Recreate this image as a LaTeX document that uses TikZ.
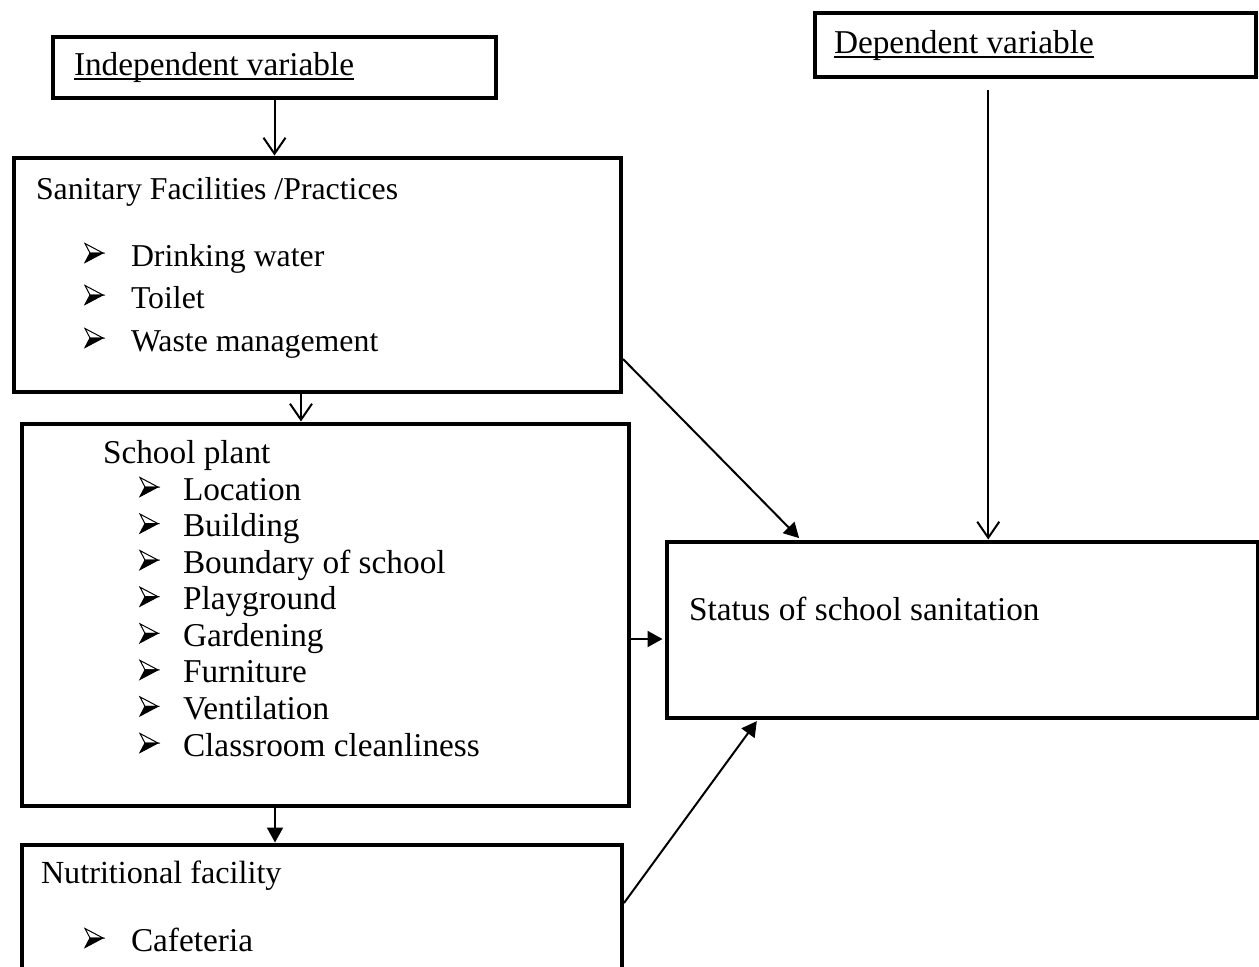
\documentclass[tikz,border=0pt]{standalone}
\usepackage{fontspec}
\setmainfont{Liberation Serif}
\usetikzlibrary{arrows.meta}
\newcommand{\wordul}[1]{\setbox0\hbox{#1}\rlap{\rule[-4.5pt]{\wd0}{1.6pt}}\box0}
\tikzset{
  pointer/.pic={
    \filldraw[fill=white, line width=1pt] (-9,-9.5) -- (9,0) -- (-4,0) -- cycle;
    \filldraw[line width=1pt] (-9,9.5) -- (9,0) -- (-4,0) -- cycle;
  }
}

\begin{document}
\begin{tikzpicture}[x=1pt, y=-1pt, line width=2pt,
  every node/.style={font=\fontsize{33.3}{40}\selectfont, inner sep=0pt},
  varbox/.style={draw, rectangle, line width=4pt, anchor=north west},
  txt/.style={anchor=base west},
  smalltxt/.style={anchor=base west, font=\fontsize{31.8}{38}\selectfont},
  vee/.style={-{Straight Barb[length=16pt, width=22pt]}},
  tri/.style={-{Triangle[length=15pt, width=16pt]}}]
\useasboundingbox (0, 0) rectangle (1259, 967);
\clip (0, 0) rectangle (1259, 967);
%Boxes
\node[varbox, minimum width=443pt, minimum height=61pt] (indep) at (51, 34.5) {};
\node[varbox, minimum width=441.5pt, minimum height=64pt] (dep) at (812.5, 11) {};
\node[varbox, minimum width=607pt, minimum height=234.5pt] (san) at (12, 155.5) {};
\node[varbox, minimum width=607pt, minimum height=382pt] (school) at (20, 421.5) {};
\node[varbox, minimum width=600pt, minimum height=150pt] (nutr) at (20, 842.5) {};
\node[varbox, minimum width=591pt, minimum height=176pt] (status) at (664.5, 539.5) {};
%Headings
\node[txt] (indeptext) at (73, 75) {\wordul{Independent variable}};
\node[txt] (deptext) at (833, 53) {\wordul{Dependent variable}};
\node[smalltxt] (santitle) at (35, 199) {Sanitary Facilities /Practices};
\node[txt] (schooltitle) at (102, 463) {School plant};
\node[smalltxt, font=\fontsize{32.2}{38}\selectfont] (nutrtitle) at (40, 883) {Nutritional facility};
\node[txt] (statustext) at (688, 620) {Status of school sanitation};
%Sanitary items
\node[smalltxt] (water) at (130, 266) {Drinking water};
\node[smalltxt] (toilet) at (130, 308) {Toilet};
\node[smalltxt] (waste) at (130, 351) {Waste management};
\pic at (94, 253) {pointer};
\pic at (94, 295) {pointer};
\pic at (94, 338) {pointer};
%School plant items
\node[txt] (location) at (182, 500) {Location};
\node[txt] (building) at (182, 536.6) {Building};
\node[txt] (boundary) at (182, 573.1) {Boundary of school};
\node[txt] (playground) at (182, 609.7) {Playground};
\node[txt] (gardening) at (182, 646.3) {Gardening};
\node[txt] (furniture) at (182, 682.9) {Furniture};
\node[txt] (ventilation) at (182, 719.4) {Ventilation};
\node[txt] (cleanliness) at (182, 756) {Classroom cleanliness};
\foreach \y in {500, 536.6, 573.1, 609.7, 646.3, 682.9, 719.4, 756}
  \pic at (149, \y-13) {pointer};
%Nutritional items
\node[txt] (cafeteria) at (130, 951) {Cafeteria};
\pic at (94, 938) {pointer};
%Arrows
\draw[vee] (indep.south) -- (indep.south |- san.north);
\draw[vee] ([xshift=-16.5pt]san.south) -- ([xshift=-16.5pt]san.south |- school.north);
\draw[tri] ([xshift=-50.5pt]school.south) -- ([xshift=-50.5pt]school.south |- nutr.north);
\draw[vee] ([xshift=-47pt, yshift=-11pt]dep.south) -- ([xshift=-47pt]dep.south |- status.north);
\draw[tri, shorten >=2pt] ([yshift=35pt]san.south east) -- ([xshift=136pt]status.north west);
\draw[tri, shorten >=2pt] ([yshift=-24.5pt]school.east) coordinate (mid) -- (mid -| status.west);
\draw[tri, shorten >=2pt] ([yshift=-60.5pt]nutr.north east) -- ([xshift=93.5pt]status.south west);
\end{tikzpicture}
\end{document}
